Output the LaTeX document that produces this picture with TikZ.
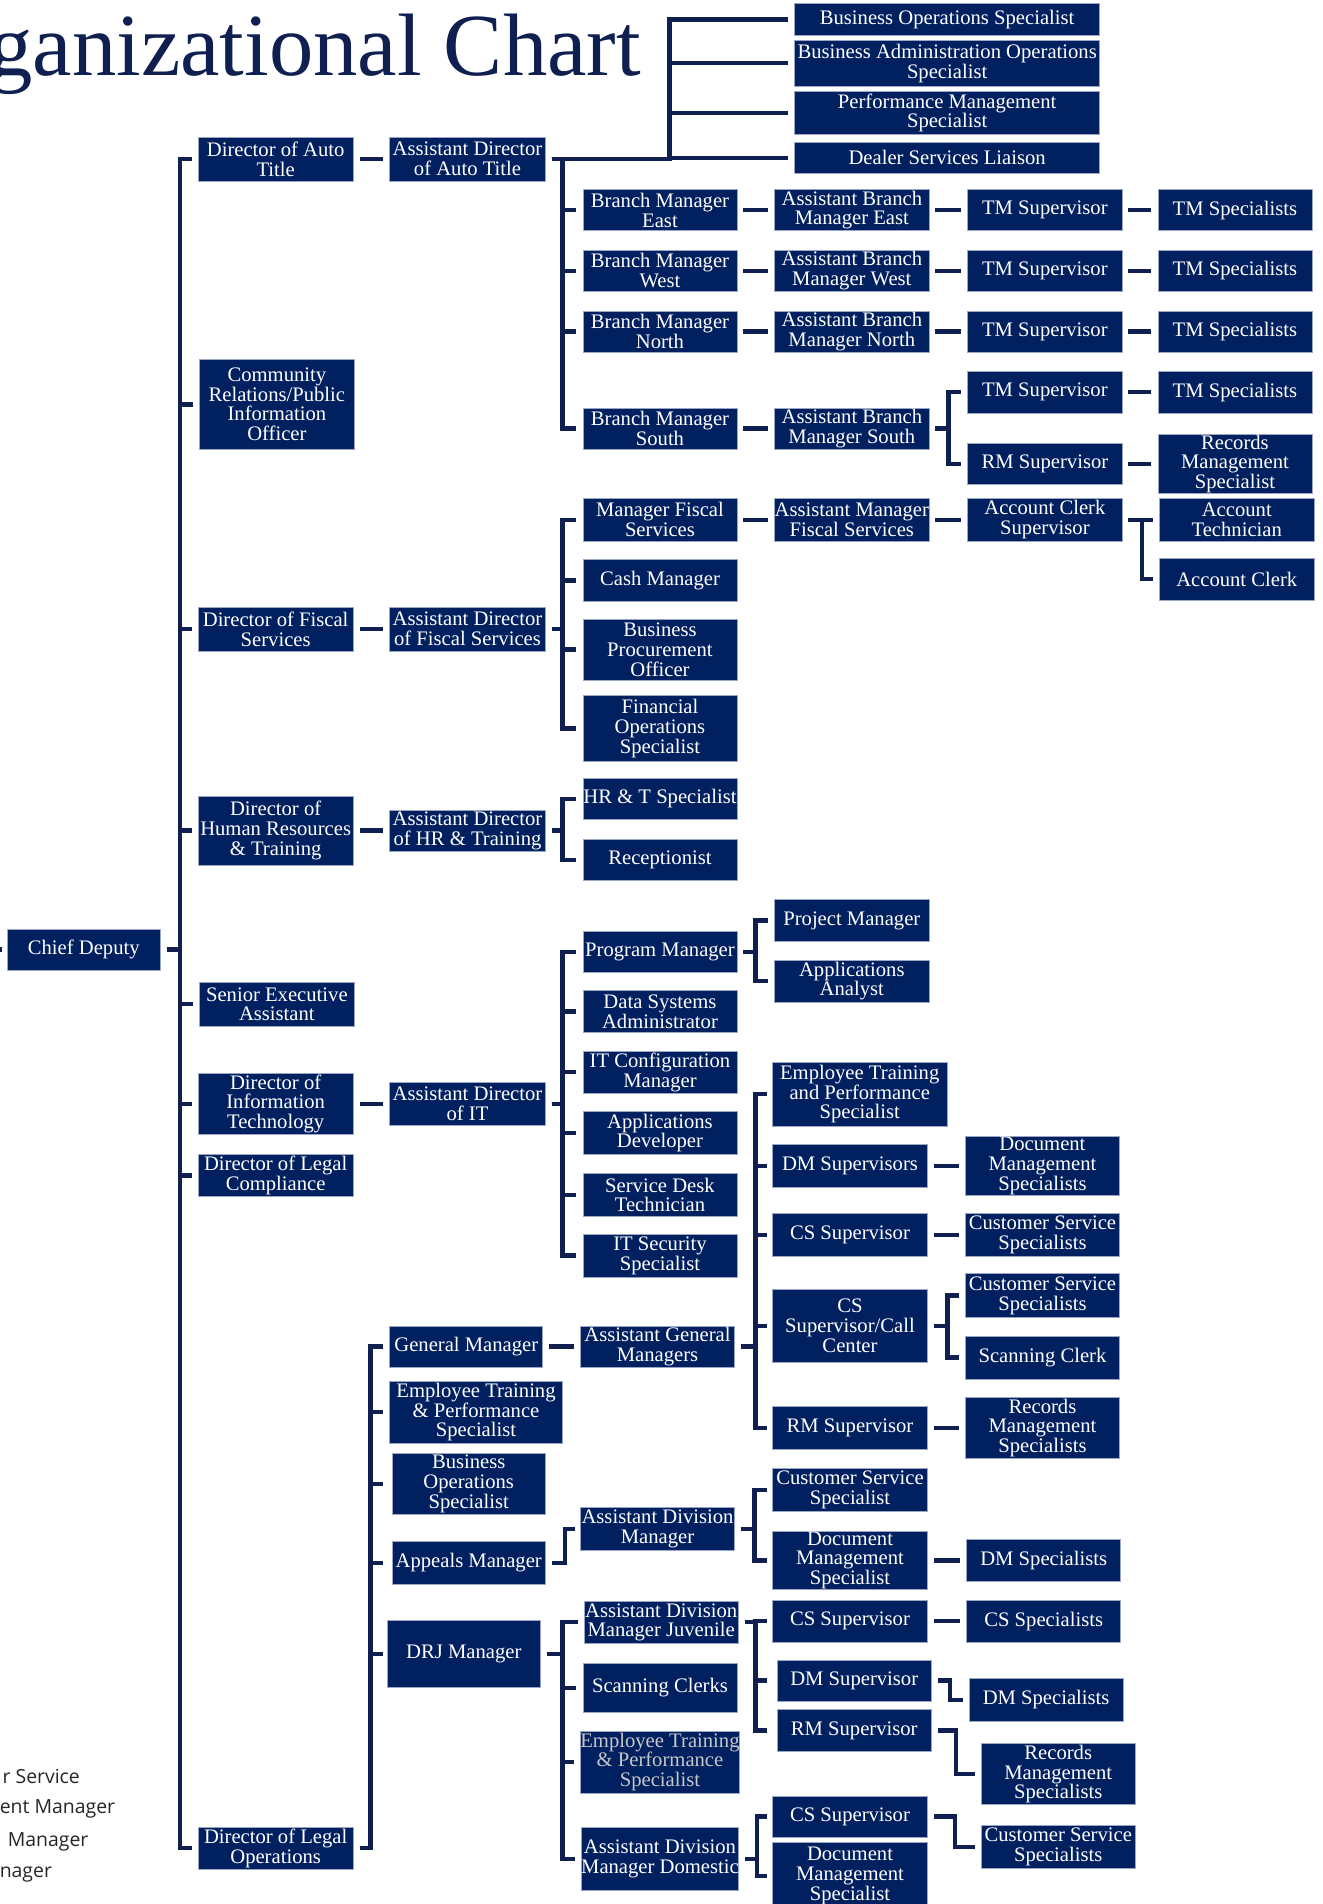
\documentclass[tikz,border=0pt]{standalone}
\usepackage{fontspec}
\setmainfont{Liberation Serif}
\newfontfamily\notefont{Open Sans}
\usetikzlibrary{calc}
\definecolor{navy}{HTML}{002060}
\definecolor{linkblue}{HTML}{0E1F50}
\definecolor{boxedge}{HTML}{9AA6C4}
\tikzset{
	box/.style={rectangle,fill=navy,draw=boxedge,line width=0.5pt,text=white,align=center,inner sep=0pt,minimum width=127,minimum height=35,font=\fontsize{17}{16.3}\selectfont},
	link/.style={draw=linkblue,line width=3.6pt,line join=miter},
	note/.style={anchor=east,inner sep=0pt,text=black!85,font=\notefont\fontsize{16}{16}\selectfont}
	}

\begin{document}
\begin{tikzpicture}[x=1pt,y=-1pt]
		\useasboundingbox (0,0) rectangle (1089,1568);
		\clip (0,0) rectangle (1089,1568);
		\node[anchor=base east,inner sep=0pt,text=linkblue,font=\fontsize{73}{73}\selectfont] (title) at (528,62) {Organizational Chart};
		\node[note] (n1) at (66,1463) {r Service};
		\node[note] (n2) at (95,1490) {ent Manager};
		\node[note] (n3) at (73,1517) {Manager};
		\node[note] (n4) at (43,1544) {nager};
		\coordinate (up) at (-20,782);
	
		% chief deputy and directors
		\node[box,minimum width=126,minimum height=34] (chief) at (69,782) {Chief Deputy};
		\node[box,minimum width=128,minimum height=36] (dat) at (227,131) {Director of Auto\\Title};
		\node[box,minimum width=128,minimum height=74] (crpio) at (228,333) {Community\\Relations/Public\\Information\\Officer};
		\node[box,minimum width=128,minimum height=36] (dfs) at (227,518) {Director of Fiscal\\Services};
		\node[box,minimum width=128,minimum height=57] (dhrt) at (227,684) {Director of\\Human Resources\\\& Training};
		\node[box,minimum width=128,minimum height=36] (sea) at (228,827) {Senior Executive\\Assistant};
		\node[box,minimum width=128,minimum height=50] (dit) at (227,909) {Director of\\Information\\Technology};
		\node[box,minimum width=128,minimum height=35] (dlc) at (227,968) {Director of Legal\\Compliance};
		\node[box,minimum width=128,minimum height=35] (dlo) at (227,1522) {Director of Legal\\Operations};
	
		\node[box,minimum width=128,minimum height=36] (adat) at (385,131) {Assistant Director\\of Auto Title};
		\node[box,minimum width=128,minimum height=36] (adfs) at (385,518) {Assistant Director\\of Fiscal Services};
		\node[box,minimum width=128,minimum height=34] (adhr) at (385,684) {Assistant Director\\of HR \& Training};
		\node[box,minimum width=128,minimum height=35] (adit) at (385,909) {Assistant Director\\of IT};
	
		% auto title
		\node[box,minimum width=251,minimum height=26] (bos) at (780,16) {Business Operations Specialist};
		\node[box,minimum width=251,minimum height=38] (baos) at (780,52) {Business Administration Operations\\Specialist};
		\node[box,minimum width=251,minimum height=35] (pms) at (780,93) {Performance Management\\Specialist};
		\node[box,minimum width=251,minimum height=26] (dsl) at (780,130) {Dealer Services Liaison};
	
		\node[box,minimum height=34] (bme) at (543.5,173) {Branch Manager\\East};
		\node[box,minimum height=34] (bmw) at (543.5,223) {Branch Manager\\West};
		\node[box,minimum height=34] (bmn) at (543.5,273) {Branch Manager\\North};
		\node[box,minimum height=34] (bms) at (543.5,353) {Branch Manager\\South};
		\node[box,minimum height=34] (abme) at (701.5,173) {Assistant Branch\\Manager East};
		\node[box,minimum height=34] (abmw) at (701.5,223) {Assistant Branch\\Manager West};
		\node[box,minimum height=34] (abmn) at (701.5,273) {Assistant Branch\\Manager North};
		\node[box,minimum height=34] (abms) at (701.5,353) {Assistant Branch\\Manager South};
		\node[box,minimum height=34] (tms1) at (860.5,173) {TM Supervisor};
		\node[box,minimum height=34] (tms2) at (860.5,223) {TM Supervisor};
		\node[box,minimum height=34] (tms3) at (860.5,273) {TM Supervisor};
		\node[box,minimum height=34] (tms4) at (860.5,323) {TM Supervisor};
		\node[box,minimum height=34] (rms1) at (860.5,382) {RM Supervisor};
		\node[box,minimum height=34] (tmsp1) at (1017,173) {TM Specialists};
		\node[box,minimum height=34] (tmsp2) at (1017,223) {TM Specialists};
		\node[box,minimum height=34] (tmsp3) at (1017,273) {TM Specialists};
		\node[box,minimum height=34] (tmsp4) at (1017,323) {TM Specialists};
		\node[box,minimum height=48] (rmsp1) at (1017,382) {Records\\Management\\Specialist};
	
		% fiscal services
		\node[box] (mfs) at (543.5,428) {Manager Fiscal\\Services};
		\node[box,minimum height=34] (cm) at (543.5,478) {Cash Manager};
		\node[box,minimum height=50] (bpo) at (543.5,535) {Business\\Procurement\\Officer};
		\node[box,minimum height=54] (fos) at (543.5,600) {Financial\\Operations\\Specialist};
		\node[box] (amfs) at (701.5,428) {Assistant Manager\\Fiscal Services};
		\node[box] (acs) at (860.5,428) {Account Clerk\\Supervisor};
		\node[box,minimum height=36] (at) at (1018.5,428) {Account\\Technician};
		\node[box] (ac) at (1018.5,477) {Account Clerk};
	
		% human resources
		\node[box,minimum height=34] (hrts) at (543.5,658) {HR \& T Specialist};
		\node[box,minimum height=34] (rec) at (543.5,708) {Receptionist};
	
		% information technology
		\node[box,minimum height=34] (pm) at (543.5,784) {Program Manager};
		\node[box] (dsa) at (543.5,833) {Data Systems\\Administrator};
		\node[box] (itcm) at (543.5,883) {IT Configuration\\Manager};
		\node[box] (ad) at (543.5,933) {Applications\\Developer};
		\node[box] (sdt) at (543.5,984) {Service Desk\\Technician};
		\node[box] (itss) at (543.5,1034) {IT Security\\Specialist};
		\node[box,minimum height=34] (prjm) at (701.5,758) {Project Manager};
		\node[box] (aa) at (701.5,808) {Applications\\Analyst};
	
		% legal operations
		\node[box,minimum width=126,minimum height=34] (gm) at (384,1109) {General Manager};
		\node[box,minimum width=142,minimum height=51] (etps1) at (392,1163) {Employee Training\\\& Performance\\Specialist};
		\node[box,minimum width=126,minimum height=50] (bos2) at (386,1222) {Business\\Operations\\Specialist};
		\node[box,minimum width=126] (am) at (386,1287) {Appeals Manager};
		\node[box,minimum width=126,minimum height=55] (drj) at (382,1362) {DRJ Manager};
	
		\node[box,minimum height=34] (agm) at (541.5,1109) {Assistant General\\Managers};
		\node[box,minimum width=144,minimum height=53] (etps2) at (708,901) {Employee Training\\and Performance\\Specialist};
		\node[box,minimum width=128] (dmsup) at (700,960) {DM Supervisors};
		\node[box,minimum width=128] (cssup1) at (700,1017) {CS Supervisor};
		\node[box,minimum width=128,minimum height=60] (cscc) at (700,1092) {CS\\Supervisor/Call\\Center};
		\node[box,minimum width=128] (rmsup2) at (700,1176) {RM Supervisor};
		\node[box,minimum height=48] (dmsp1) at (858.5,960) {Document\\Management\\Specialists};
		\node[box] (cssp1) at (858.5,1017) {Customer Service\\Specialists};
		\node[box,minimum height=36] (cssp2) at (858.5,1067) {Customer Service\\Specialists};
		\node[box] (sc1) at (858.5,1118) {Scanning Clerk};
		\node[box,minimum height=50] (rmsp2) at (858.5,1176) {Records\\Management\\Specialists};
	
		\node[box] (adm) at (541.5,1259) {Assistant Division\\Manager};
		\node[box,minimum width=128] (css1) at (700,1227) {Customer Service\\Specialist};
		\node[box,minimum width=128,minimum height=48] (dms1) at (700,1285) {Document\\Management\\Specialist};
		\node[box] (dmspec1) at (859.5,1285) {DM Specialists};
	
		\node[box] (admj) at (544.5,1336) {Assistant Division\\Manager Juvenile};
		\node[box,minimum height=40] (scs) at (543.5,1390) {Scanning Clerks};
		\node[box,minimum height=51,text=black!22] (etps3) at (543.5,1451) {Employee Training\\\& Performance\\Specialist};
		\node[box,minimum height=52] (admd) at (543.5,1531) {Assistant Division\\Manager Domestic};
		\node[box,minimum width=128] (cssup2) at (700,1335) {CS Supervisor};
		\node[box,minimum height=34] (dmsup2) at (703.5,1384) {DM Supervisor};
		\node[box,minimum height=34] (rmsup3) at (703.5,1425) {RM Supervisor};
		\node[box] (cssp3) at (859.5,1335) {CS Specialists};
		\node[box] (dmspec2) at (861.5,1400) {DM Specialists};
		\node[box,minimum height=50] (rmsp3) at (871.5,1461) {Records\\Management\\Specialists};
		\node[box,minimum width=128,minimum height=34] (cssup3) at (700,1496) {CS Supervisor};
		\node[box,minimum width=128,minimum height=55] (dms2) at (700,1545) {Document\\Management\\Specialist};
		\node[box] (cssp4) at (871.5,1521) {Customer Service\\Specialists};
	
		% connectors
		\draw[link] (up) -- ([xshift=-4]chief.west);
		\draw[link] ([xshift=5]chief.east) -- ++(11,0) |- ([xshift=-5]dat.west);
		\draw[link] ([xshift=5]chief.east) -- ++(11,0) |- ([xshift=-5]crpio.west);
		\draw[link] ([xshift=5]chief.east) -- ++(11,0) |- ([xshift=-5]dfs.west);
		\draw[link] ([xshift=5]chief.east) -- ++(11,0) |- ([xshift=-5]dhrt.west);
		\draw[link] ([xshift=5]chief.east) -- ++(11,0) |- ([xshift=-5]sea.west);
		\draw[link] ([xshift=5]chief.east) -- ++(11,0) |- ([xshift=-5]dit.west);
		\draw[link] ([xshift=5]chief.east) -- ++(11,0) |- ([xshift=-5]dlc.west);
		\draw[link] ([xshift=5]chief.east) -- ++(11,0) |- ([xshift=-5]dlo.west);
	
		\draw[link] ([xshift=5]dat.east) -- ([xshift=-5]adat.west);
		\draw[link] ([xshift=5]dfs.east) -- ([xshift=-5]adfs.west);
		\draw[link] ([xshift=5]dhrt.east) -- ([xshift=-5]adhr.west);
		\draw[link] ([xshift=5]dit.east) -- ([xshift=-5]adit.west);
	
		\draw[link] ([xshift=5]adat.east) -- ++(97,0) |- ([xshift=-5]bos.west);
		\draw[link] ([xshift=5]adat.east) -- ++(97,0) |- ([xshift=-5]baos.west);
		\draw[link] ([xshift=5]adat.east) -- ++(97,0) |- ([xshift=-5]pms.west);
		\draw[link] ([xshift=5]adat.east) -- ++(97,0) |- ([xshift=-5]dsl.west);
		\draw[link] ([xshift=5]adat.east) -- ++(9,0) |- ([xshift=-5]bme.west);
		\draw[link] ([xshift=5]adat.east) -- ++(9,0) |- ([xshift=-5]bmw.west);
		\draw[link] ([xshift=5]adat.east) -- ++(9,0) |- ([xshift=-5]bmn.west);
		\draw[link] ([xshift=5]adat.east) -- ++(9,0) |- ([xshift=-5]bms.west);
		\draw[link] ([xshift=5]bme.east) -- ([xshift=-5]abme.west);
		\draw[link] ([xshift=5]bmw.east) -- ([xshift=-5]abmw.west);
		\draw[link] ([xshift=5]bmn.east) -- ([xshift=-5]abmn.west);
		\draw[link] ([xshift=5]bms.east) -- ([xshift=-5]abms.west);
		\draw[link] ([xshift=5]abme.east) -- ([xshift=-5]tms1.west);
		\draw[link] ([xshift=5]abmw.east) -- ([xshift=-5]tms2.west);
		\draw[link] ([xshift=5]abmn.east) -- ([xshift=-5]tms3.west);
		\draw[link] ([xshift=5]abms.east) -- ++(11,0) |- ([xshift=-5]tms4.west);
		\draw[link] ([xshift=5]abms.east) -- ++(11,0) |- ([xshift=-5]rms1.west);
		\draw[link] ([xshift=5]tms1.east) -- ([xshift=-5]tmsp1.west);
		\draw[link] ([xshift=5]tms2.east) -- ([xshift=-5]tmsp2.west);
		\draw[link] ([xshift=5]tms3.east) -- ([xshift=-5]tmsp3.west);
		\draw[link] ([xshift=5]tms4.east) -- ([xshift=-5]tmsp4.west);
		\draw[link] ([xshift=5]rms1.east) -- ([xshift=-5]rmsp1.west);
	
		\draw[link] ([xshift=5]adfs.east) -- ++(9,0) |- ([xshift=-5]mfs.west);
		\draw[link] ([xshift=5]adfs.east) -- ++(9,0) |- ([xshift=-5]cm.west);
		\draw[link] ([xshift=5]adfs.east) -- ++(9,0) |- ([xshift=-5]bpo.west);
		\draw[link] ([xshift=5]adfs.east) -- ++(9,0) |- ([xshift=-5]fos.west);
		\draw[link] ([xshift=5]mfs.east) -- ([xshift=-5]amfs.west);
		\draw[link] ([xshift=5]amfs.east) -- ([xshift=-5]acs.west);
		\draw[link] ([xshift=5]acs.east) -- ([xshift=-5]at.west);
		\draw[link] ([xshift=5]acs.east) -- ++(11,0) |- ([xshift=-5]ac.west);
	
		\draw[link] ([xshift=5]adhr.east) -- ++(9,0) |- ([xshift=-5]hrts.west);
		\draw[link] ([xshift=5]adhr.east) -- ++(9,0) |- ([xshift=-5]rec.west);
	
		\draw[link] ([xshift=5]adit.east) -- ++(9,0) |- ([xshift=-5]pm.west);
		\draw[link] ([xshift=5]adit.east) -- ++(9,0) |- ([xshift=-5]dsa.west);
		\draw[link] ([xshift=5]adit.east) -- ++(9,0) |- ([xshift=-5]itcm.west);
		\draw[link] ([xshift=5]adit.east) -- ++(9,0) |- ([xshift=-5]ad.west);
		\draw[link] ([xshift=5]adit.east) -- ++(9,0) |- ([xshift=-5]sdt.west);
		\draw[link] ([xshift=5]adit.east) -- ++(9,0) |- ([xshift=-5]itss.west);
		\draw[link] ([xshift=5]pm.east) -- ++(10,0) |- ([xshift=-5]prjm.west);
		\draw[link] ([xshift=5]pm.east) -- ++(10,0) |- ([xshift=-5]aa.west);
	
		\draw[link] ([xshift=5]dlo.east) -- ++(9,0) |- ([xshift=-5]gm.west);
		\draw[link] ([xshift=5]dlo.east) -- ++(9,0) |- ([xshift=-5]etps1.west);
		\draw[link] ([xshift=5]dlo.east) -- ++(9,0) |- ([xshift=-7]bos2.west);
		\draw[link] ([xshift=5]dlo.east) -- ++(9,0) |- ([xshift=-7]am.west);
		\draw[link] ([xshift=5]dlo.east) -- ++(9,0) |- ([xshift=-3]drj.west);
		\draw[link] ([xshift=5]gm.east) -- ([xshift=-5]agm.west);
		\draw[link] ([xshift=5]agm.east) -- ++(12,0) |- ([xshift=-4]etps2.west);
		\draw[link] ([xshift=5]agm.east) -- ++(12,0) |- ([xshift=-4]dmsup.west);
		\draw[link] ([xshift=5]agm.east) -- ++(12,0) |- ([xshift=-4]cssup1.west);
		\draw[link] ([xshift=5]agm.east) -- ++(12,0) |- ([xshift=-4]cscc.west);
		\draw[link] ([xshift=5]agm.east) -- ++(12,0) |- ([xshift=-4]rmsup2.west);
		\draw[link] ([xshift=5]dmsup.east) -- ([xshift=-5]dmsp1.west);
		\draw[link] ([xshift=5]cssup1.east) -- ([xshift=-5]cssp1.west);
		\draw[link] ([xshift=5]cscc.east) -- ++(11,0) |- ([xshift=-5]cssp2.west);
		\draw[link] ([xshift=5]cscc.east) -- ++(11,0) |- ([xshift=-5]sc1.west);
		\draw[link] ([xshift=5]rmsup2.east) -- ([xshift=-5]rmsp2.west);
	
		\draw[link] ([xshift=5]am.east) -- ++(11,0) |- ([xshift=-4]adm.west);
		\draw[link] ([xshift=5]adm.east) -- ++(11,0) |- ([xshift=-4]css1.west);
		\draw[link] ([xshift=5]adm.east) -- ++(11,0) |- ([xshift=-4]dms1.west);
		\draw[link] ([xshift=5]dms1.east) -- ([xshift=-5]dmspec1.west);
	
		\draw[link] ([xshift=5]drj.east) -- ++(13,0) |- ([xshift=-5]admj.west);
		\draw[link] ([xshift=5]drj.east) -- ++(13,0) |- ([xshift=-5]scs.west);
		\draw[link] ([xshift=5]drj.east) -- ++(13,0) |- ([xshift=-5]etps3.west);
		\draw[link] ([xshift=5]drj.east) -- ++(13,0) |- ([xshift=-5]admd.west);
		\draw[link] ([xshift=5]admj.east) -- ++(9,0) |- ([xshift=-4]cssup2.west);
		\draw[link] ([xshift=5]admj.east) -- ++(9,0) |- ([xshift=-8]dmsup2.west);
		\draw[link] ([xshift=5]admj.east) -- ++(9,0) |- ([xshift=-8]rmsup3.west);
		\draw[link] ([xshift=5]cssup2.east) -- ([xshift=-5]cssp3.west);
		\draw[link] ([xshift=5]dmsup2.east) -- ++(10,0) |- ([xshift=-5]dmspec2.west);
		\draw[link] ([xshift=5]rmsup3.east) -- ++(15,0) |- ([xshift=-5]rmsp3.west);
		\draw[link] ([xshift=5]admd.east) -- ++(10,0) |- ([xshift=-4]cssup3.west);
		\draw[link] ([xshift=5]admd.east) -- ++(10,0) |- ([xshift=-4]dms2.west);
		\draw[link] ([xshift=5]cssup3.east) -- ++(17,0) |- ([xshift=-5]cssp4.west);
	\end{tikzpicture}
\end{document}
